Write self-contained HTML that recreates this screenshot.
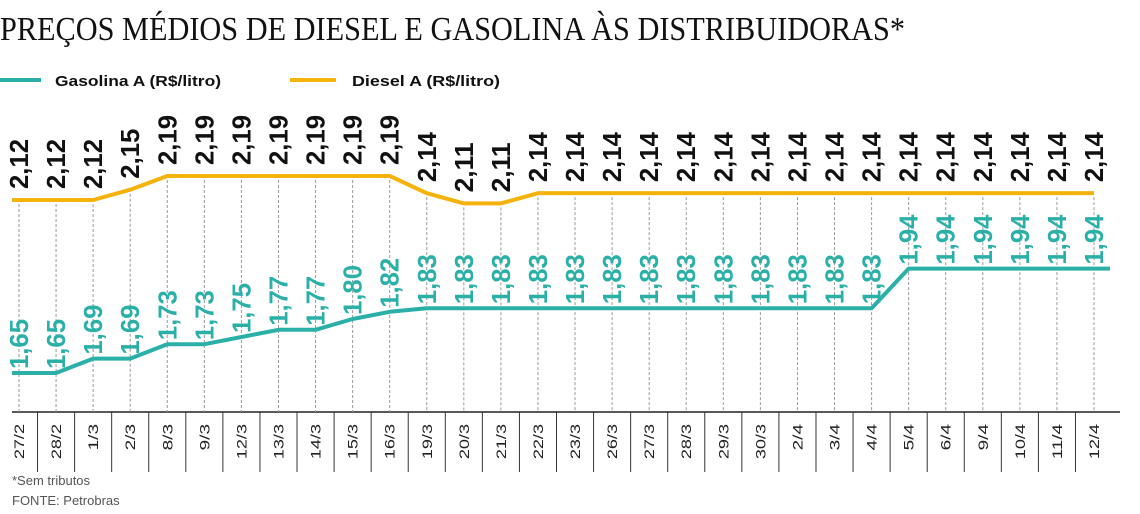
<!DOCTYPE html>
<html><head><meta charset="utf-8">
<style>
body{margin:0;background:#fff;width:1140px;height:514px;overflow:hidden}
svg{display:block}
</style></head><body>
<svg id="s" width="1140" height="514" xmlns="http://www.w3.org/2000/svg" font-family="Liberation Sans, sans-serif">
<text x="0" y="40" font-family="Liberation Serif, serif" font-size="34" textLength="905" lengthAdjust="spacingAndGlyphs" fill="#111">PREÇOS MÉDIOS DE DIESEL E GASOLINA ÀS DISTRIBUIDORAS*</text>
<line x1="0" y1="80" x2="41" y2="80" stroke="#2bb0a8" stroke-width="4"/>
<text x="55" y="86" font-size="15" font-weight="bold" textLength="166" lengthAdjust="spacingAndGlyphs" fill="#111">Gasolina A (R$/litro)</text>
<line x1="290" y1="80" x2="336" y2="80" stroke="#f5b20a" stroke-width="4"/>
<text x="352" y="86" font-size="15" font-weight="bold" textLength="148" lengthAdjust="spacingAndGlyphs" fill="#111">Diesel A (R$/litro)</text>
<line x1="12" y1="412" x2="1120" y2="412" stroke="#222" stroke-width="1.5"/>
<text x="12" y="485" font-size="13" fill="#555">*Sem tributos</text>
<text x="12" y="505" font-size="13" fill="#555">FONTE: Petrobras</text>
<g id="g"></g>
</svg>
<script>
var cats="27/2,28/2,1/3,2/3,8/3,9/3,12/3,13/3,14/3,15/3,16/3,19/3,20/3,21/3,22/3,23/3,26/3,27/3,28/3,29/3,30/3,2/4,3/4,4/4,5/4,6/4,9/4,10/4,11/4,12/4".split(",");
var gas=[1.65,1.65,1.69,1.69,1.73,1.73,1.75,1.77,1.77,1.80,1.82];
while(gas.length<24)gas.push(1.83);while(gas.length<30)gas.push(1.94);
var die=[2.12,2.12,2.12,2.15,2.19,2.19,2.19,2.19,2.19,2.19,2.19,2.14,2.11,2.11];
while(die.length<30)die.push(2.14);
var sp=(1094-19)/29,h="";
function X(i){return 19+i*sp}
function GY(v){return 373-(v-1.65)*360}
function DY(v){return 200-(v-2.12)*343}
for(var i=0;i<30;i++){
 var x=X(i);
 h+='<line x1="'+x+'" y1="'+(DY(die[i])+4)+'" x2="'+x+'" y2="412" stroke="#999" stroke-width="1" stroke-dasharray="3,2"/>';
 if(i<29)h+='<line x1="'+(x+sp/2)+'" y1="412" x2="'+(x+sp/2)+'" y2="472" stroke="#333" stroke-width="1"/>';
 h+='<text transform="translate('+(x+5)+',424) rotate(-90)" text-anchor="end" font-size="14" textLength="'+(cats[i].length*8.8)+'" lengthAdjust="spacingAndGlyphs" fill="#222">'+cats[i]+'</text>';
}
var dp="",gp="";
for(var i=0;i<30;i++){dp+=(i?"L":"M")+X(i)+","+DY(die[i]);gp+=(i?"L":"M")+X(i)+","+GY(gas[i]);}
gp="M12,"+GY(1.65)+gp.replace(/^M/,"L")+"L1110,"+GY(1.94);
h+='<path d="M12,'+DY(2.12)+dp.replace(/^M/,"L")+'" fill="none" stroke="#f5b20a" stroke-width="4" stroke-linejoin="round"/>';
h+='<path d="'+gp+'" fill="none" stroke="#2bb0a8" stroke-width="4" stroke-linejoin="round"/>';
function f(v){return v.toFixed(2).replace(".",",")}
for(var i=0;i<30;i++){
 var x=X(i);
 h+='<text transform="translate('+(x+9)+','+(DY(die[i])-11)+') rotate(-90)" font-size="26" font-weight="bold" textLength="50" lengthAdjust="spacingAndGlyphs" fill="#111">'+f(die[i])+'</text>';
 h+='<text transform="translate('+(x+9)+','+(GY(gas[i])-4)+') rotate(-90)" font-size="26" font-weight="bold" textLength="50" lengthAdjust="spacingAndGlyphs" fill="#2bb0a8">'+f(gas[i])+'</text>';
}
document.getElementById("g").innerHTML=h;
</script>
</body></html>
